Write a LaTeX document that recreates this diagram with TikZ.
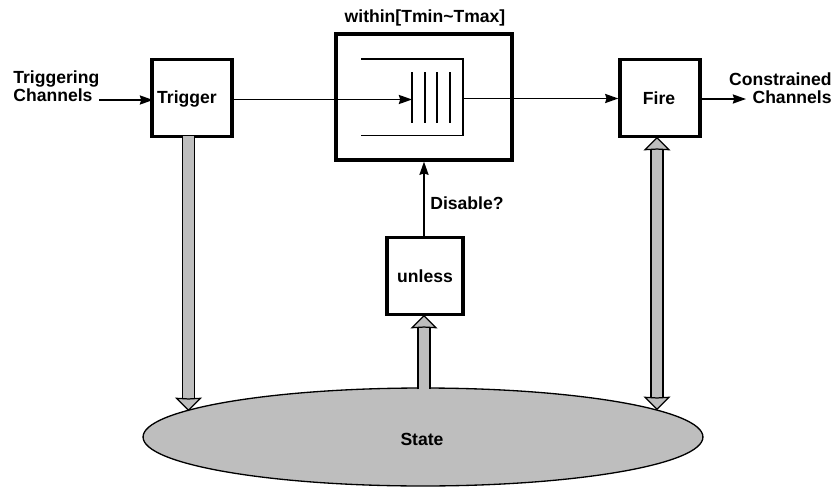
\documentclass[tikz,border=0pt]{standalone}
\usepackage{fontspec}
\setmainfont{Liberation Sans}
\usetikzlibrary{arrows.meta,shapes.geometric}
\definecolor{stategray}{HTML}{BEBEBE}
\tikzset{
	stagebox/.style={draw, line width=1.9pt, minimum width=1.6cm, minimum height=1.54cm},
	boldtext/.style={font=\fontsize{10}{10}\selectfont\bfseries, inner sep=0pt},
	flow/.style={line width=0.85pt, -{Stealth[length=7.5pt, width=5.2pt, inset=0.8pt]}},
	thinline/.style={line width=0.85pt},
	blockhead/.tip={Stealth[length=7.6pt, width=15.3pt, inset=0.4pt, fill=stategray, line width=0.7pt]},
	blockflow/.style={line width=0.65pt, double=stategray, double distance=6.2pt},
}

\begin{document}
\begin{tikzpicture}[x=0.02cm, y=-0.02cm]
	\useasboundingbox (0, 0) rectangle (836, 487);
	\node[stagebox] (trigger) at (192, 98) {};
	\node[stagebox, minimum width=3.52cm, minimum height=2.52cm] (within) at (424, 97) {};
	\node[stagebox] (fire) at (660, 98) {};
	\node[stagebox, minimum width=1.52cm, minimum height=1.54cm] (unless) at (425, 276) {};
	\node[draw, ellipse, fill=stategray, line width=0.75pt, minimum width=11.2cm, minimum height=1.96cm, inner sep=0pt] (state) at (423, 437) {};

	\node[boldtext] (triggertext) at (187, 99) {Trigger};
	\node[boldtext] (firetext) at (659, 98) {Fire};
	\node[boldtext] (unlesstext) at (425, 276) {unless};
	\node[boldtext] (statetext) at (422, 439) {State};
	\node[boldtext] (withintext) at (425, 18) {within[Tmin\textasciitilde Tmax]};
	\node[boldtext] (disabletext) at (467, 203) {Disable?};
	\node[boldtext, align=left, anchor=west] (inchannels) at (13, 86) {Triggering\\Channels};
	\node[boldtext, align=right, anchor=east] (outchannels) at (832, 88) {Constrained\\Channels};

	% waiting queue inside the within box
	\coordinate (queuein) at (412, 99.5);
	\coordinate (queueout) at (463, 98.5);
	\draw[thinline] (361, 59) -- (463, 59) -- (463, 135.5) -- (361, 135.5);
	\foreach \x in {412, 425, 437, 450}
		\draw[thinline] (\x, 72) -- (\x, 122.5);

	\coordinate (infrom) at (99, 100);
	\coordinate (into) at (153, 100);
	\coordinate (outto) at (746, 99);
	\draw[flow] (infrom) -- (into);
	\draw[flow] (trigger.east |- queuein) -- (queuein);
	\draw[flow] (queueout) -- (fire.west |- queueout);
	\draw[flow] (fire.east |- outto) -- (outto);
	\draw[flow] (unless.north -| within.south) -- (within.south);

	% state access arrows
	\coordinate (triggerleg) at (188.5, 136);
	\coordinate (triggerfoot) at (188.5, 411);
	\coordinate (fireleg) at (657, 137);
	\coordinate (firefoot) at (657, 410);
	\coordinate (unlessleg) at (424, 389);
	\coordinate (unlesshead) at (424, 315);
	\draw[blockflow, -{blockhead}] (triggerleg) -- (triggerfoot);
	\draw[blockflow, {blockhead}-{blockhead}] (fireleg) -- (firefoot);
	\draw[blockflow, -{blockhead}] (unlessleg) -- (unlesshead);
\end{tikzpicture}
\end{document}
